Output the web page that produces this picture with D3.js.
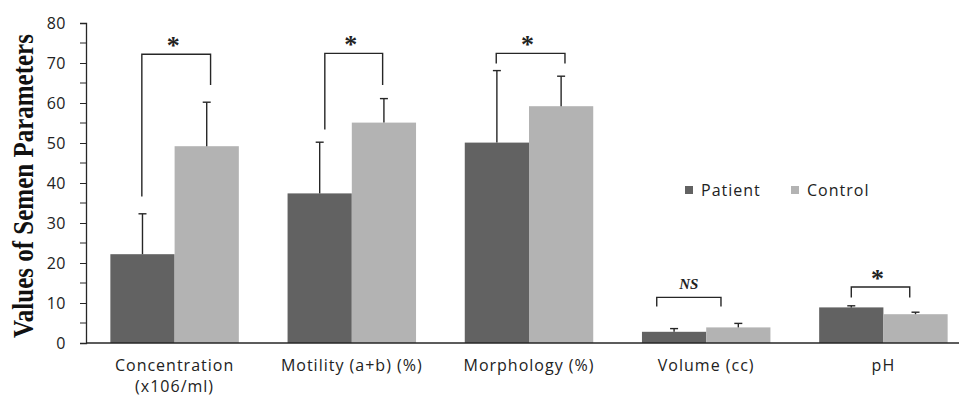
<!DOCTYPE html>
<html>
<head>
<meta charset="utf-8">
<script src="https://cdn.jsdelivr.net/npm/d3@7/dist/d3.min.js"></script>
<style>
  html, body { margin: 0; padding: 0; background: #fff; }
  svg { display: block; }
</style>
</head>
<body>
<svg id="chart" width="959" height="396"></svg>
<script>
// ---- data ----
const categories = ["Concentration\n(x106/ml)", "Motility (a+b) (%)", "Morphology (%)", "Volume (cc)", "pH"];
const seriesNames = ["Patient", "Control"];
const patientMean = [22.2, 37.4, 50.1, 2.8, 8.9];
const patientSD   = [10.1, 12.8, 18.0, 0.8, 0.4];
const controlMean = [49.2, 55.1, 59.2, 3.9, 7.2];
const controlSD   = [11.0, 6.0, 7.5, 1.0, 0.5];
const yTicks = [0, 10, 20, 30, 40, 50, 60, 70, 80];
const yMinorTicks = [5, 15, 25, 35, 45, 55, 65, 75];
// significance brackets: label, top value, left/right leg bottoms, leg positions (offset from group centre in bar widths)
const sigLabels   = ["*", "*", "*", "NS", "*"];
const sigTop      = [72.2, 72.4, 72.4, 11.4, 14.0];
const sigLeftLow  = [36.6, 53.4, 69.9, 9.1, 11.4];
const sigRightLow = [64.5, 64.5, 69.9, 9.1, 11.4];
const sigLeftOff  = [-0.51, -0.42, -0.51, -0.77, -0.50];
const sigRightOff = [0.56, 0.48, 0.56, 0.23, 0.41];

// ---- layout ----
const svg = d3.select("#chart");
const x0 = 86, yBase = 343, yTop = 23;
const colors = {"Patient": "#626262", "Control": "#b3b3b3"};
const ink = "#262626";
const sans = "'Open Sans', 'DejaVu Sans', sans-serif";

const x = d3.scaleBand().domain(categories).range([x0, x0 + 5 * 177.2]).paddingInner(0.275).paddingOuter(0.1375);
const xs = d3.scaleBand().domain(seriesNames).range([0, x.bandwidth()]);
const y = d3.scaleLinear().domain([0, 80]).range([yBase, yTop]);

// y axis
const yAxis = d3.axisLeft(y).tickValues(yTicks).tickSize(6).tickPadding(14).tickFormat(d3.format("d"));
const gy = svg.append("g").attr("transform", `translate(${x0},0)`).call(yAxis);
gy.select(".domain").attr("stroke", ink).attr("stroke-width", 1.3);
gy.selectAll(".tick line").attr("stroke", ink).attr("stroke-width", 1);
gy.selectAll(".tick text").attr("font-family", sans).attr("font-size", 16).attr("letter-spacing", 0.5).attr("fill", "#222").attr("dy", "0.36em");
svg.append("g").selectAll("line").data(yMinorTicks).join("line")
  .attr("x1", x0 - 6).attr("x2", x0).attr("y1", d => y(d)).attr("y2", d => y(d))
  .attr("stroke", ink).attr("stroke-width", 1);

// bars
const rows = categories.map((c, i) => ({
  cat: c, i,
  vals: [
    {s: "Patient", v: patientMean[i], e: patientSD[i]},
    {s: "Control", v: controlMean[i], e: controlSD[i]}
  ]
}));
const groups = svg.append("g").selectAll("g").data(rows).join("g")
  .attr("transform", d => `translate(${x(d.cat)},0)`);
groups.selectAll("rect").data(d => d.vals).join("rect")
  .attr("x", d => xs(d.s)).attr("width", xs.bandwidth())
  .attr("y", d => y(d.v)).attr("height", d => y(0) - y(d.v))
  .attr("fill", d => colors[d.s]);
// error bars
groups.selectAll("line.err").data(d => d.vals).join("line").attr("class", "err")
  .attr("x1", d => xs(d.s) + xs.bandwidth() / 2).attr("x2", d => xs(d.s) + xs.bandwidth() / 2)
  .attr("y1", d => y(d.v)).attr("y2", d => y(d.v + d.e))
  .attr("stroke", ink).attr("stroke-width", 1.4);
groups.selectAll("line.cap").data(d => d.vals).join("line").attr("class", "cap")
  .attr("x1", d => xs(d.s) + xs.bandwidth() / 2 - 4).attr("x2", d => xs(d.s) + xs.bandwidth() / 2 + 4)
  .attr("y1", d => y(d.v + d.e)).attr("y2", d => y(d.v + d.e))
  .attr("stroke", ink).attr("stroke-width", 1.4);

// x axis baseline
svg.append("line").attr("x1", x0).attr("x2", 959).attr("y1", yBase).attr("y2", yBase)
  .attr("stroke", ink).attr("stroke-width", 1.5);

// x labels
const xl = svg.append("g").selectAll("text").data(categories).join("text")
  .attr("x", d => x(d) + x.bandwidth() / 2).attr("y", 371)
  .attr("text-anchor", "middle")
  .attr("font-family", sans).attr("font-size", 16).attr("letter-spacing", 1).attr("fill", "#222");
xl.selectAll("tspan").data(d => d.split("\n")).join("tspan")
  .attr("x", function() { return d3.select(this.parentNode).attr("x"); })
  .attr("dy", (d, i) => i === 0 ? 0 : 21)
  .text(d => d);

// significance brackets
const sig = svg.append("g");
categories.forEach((c, i) => {
  const cx = x(c) + x.bandwidth() / 2;
  const bw = xs.bandwidth();
  const lx = cx + sigLeftOff[i] * bw, rx = cx + sigRightOff[i] * bw;
  sig.append("path")
    .attr("d", `M${lx},${y(sigLeftLow[i])}V${y(sigTop[i])}H${rx}V${y(sigRightLow[i])}`)
    .attr("fill", "none").attr("stroke", ink).attr("stroke-width", 1.4);
  const isNS = sigLabels[i] === "NS";
  sig.append("text")
    .attr("x", (lx + rx) / 2 - (isNS ? 0 : 3))
    .attr("y", y(sigTop[i]) - (isNS ? 8 : 0))
    .attr("text-anchor", "middle")
    .attr("font-family", "'Liberation Serif', 'DejaVu Serif', serif")
    .attr("font-weight", "bold")
    .attr("font-style", isNS ? "italic" : "normal")
    .attr("font-size", isNS ? 15 : 26)
    .attr("fill", "#222")
    .text(sigLabels[i]);
});

// legend
const leg = svg.append("g");
const legX = [685, 791];
seriesNames.forEach((s, i) => {
  leg.append("rect").attr("x", legX[i]).attr("y", 186).attr("width", 8).attr("height", 8).attr("fill", colors[s]);
  leg.append("text").attr("x", legX[i] + 16).attr("y", 190).attr("dy", "0.36em")
    .attr("font-family", sans).attr("font-size", 16).attr("letter-spacing", 1).attr("fill", "#222").text(s);
});

// y title
svg.append("text")
  .attr("transform", `translate(33,186) rotate(-90) scale(1,1.2)`)
  .attr("text-anchor", "middle")
  .attr("font-family", "'Liberation Serif', 'Times New Roman', serif")
  .attr("font-weight", "bold").attr("font-size", 25).attr("fill", "#111")
  .text("Values of Semen Parameters");
</script>
</body>
</html>
